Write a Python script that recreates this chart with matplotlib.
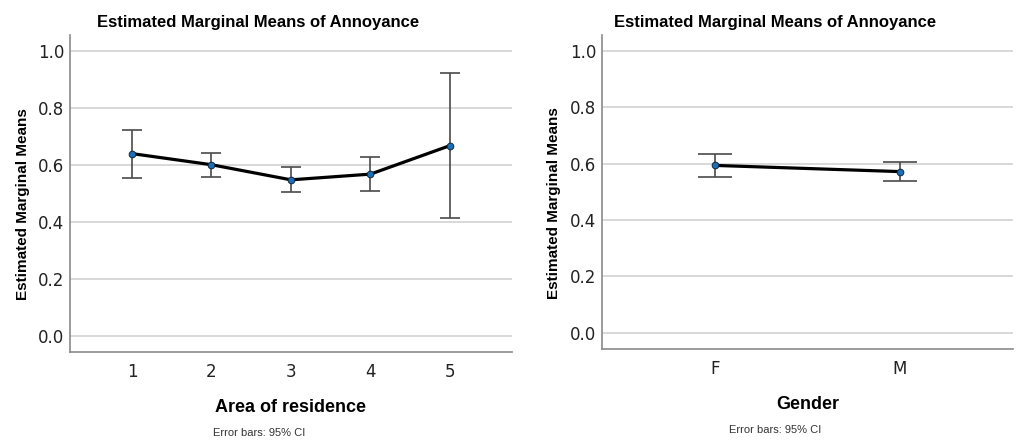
import matplotlib.pyplot as plt

# data
area_levels = [1, 2, 3, 4, 5]
area_means = [0.640, 0.601, 0.548, 0.568, 0.668]
area_lo = [0.554, 0.559, 0.506, 0.509, 0.413]
area_hi = [0.724, 0.642, 0.592, 0.629, 0.924]

gender_levels = ["F", "M"]
gender_means = [0.594, 0.572]
gender_lo = [0.554, 0.539]
gender_hi = [0.634, 0.606]

yticks = [0.0, 0.2, 0.4, 0.6, 0.8, 1.0]

TITLE = "Estimated Marginal Means of Annoyance"
GRID = "#d2d2d2"
SPINE = "#8a8a8a"
ERR = "#4a4a4a"
DOT = "#1c6fb5"

fig = plt.figure(figsize=(10.2, 4.41), dpi=100)


def panel(rect, xs, labels, means, lo, hi, xlim, ylim, xlabel, cap):
    ax = fig.add_axes(rect)
    yerr = [[m - l for m, l in zip(means, lo)], [h - m for m, h in zip(means, hi)]]
    ax.errorbar(xs, means, yerr=yerr, fmt="none", ecolor=ERR, elinewidth=1.2,
                capsize=cap, capthick=1.2, zorder=3)
    ax.plot(xs, means, color="black", lw=2.3, zorder=4)
    ax.plot(xs, means, "o", ms=4.8, mfc=DOT, mec="#102a40", mew=0.7, zorder=5)
    ax.set_xlim(*xlim)
    ax.set_ylim(*ylim)
    ax.set_xticks(xs)
    ax.set_xticklabels(labels)
    ax.set_yticks(yticks)
    ax.set_yticklabels([f"{v:.1f}" for v in yticks])
    ax.grid(axis="y", color=GRID, lw=1.2)
    ax.set_axisbelow(True)
    for s in ("top", "right"):
        ax.spines[s].set_visible(False)
    for s in ("left", "bottom"):
        ax.spines[s].set_color(SPINE)
        ax.spines[s].set_linewidth(1.2)
    ax.tick_params(length=0, labelsize=12, colors="#222222", pad=4)
    ax.tick_params(axis="x", pad=8)
    ax.set_ylabel("Estimated Marginal Means", family="Liberation Sans",
                  fontweight="bold", fontsize=11)
    ax.yaxis.set_label_coords(-0.0915 * 0.4333 / rect[2], 0.466)
    ax.set_xlabel(xlabel, family="Liberation Sans", fontweight="bold",
                  fontsize=13, labelpad=13)
    return ax


ax1 = panel([0.0686, 0.2018, 0.4333, 0.7188], area_levels,
            [str(v) for v in area_levels], area_means, area_lo, area_hi,
            (0.22, 5.78), (-0.056, 1.056), "Area of residence", 7.5)
ax2 = panel([0.590, 0.2086, 0.403, 0.712], [1, 2], gender_levels,
            gender_means, gender_lo, gender_hi,
            (0.39, 2.61), (-0.058, 1.057), "Gender", 12.3)

fig.text(258 / 1020, 1 - 23 / 441, TITLE, ha="center", va="center",
         family="Liberation Sans", fontweight="bold", fontsize=12)
fig.text(775 / 1020, 1 - 23 / 441, TITLE, ha="center", va="center",
         family="Liberation Sans", fontweight="bold", fontsize=12)
fig.text(259 / 1020, 1 - 433 / 441, "Error bars: 95% CI", ha="center",
         va="center", family="Liberation Sans", fontsize=8, color="#333333")
fig.text(775 / 1020, 1 - 430 / 441, "Error bars: 95% CI", ha="center",
         va="center", family="Liberation Sans", fontsize=8, color="#333333")

fig.savefig("out.png", dpi=100)
